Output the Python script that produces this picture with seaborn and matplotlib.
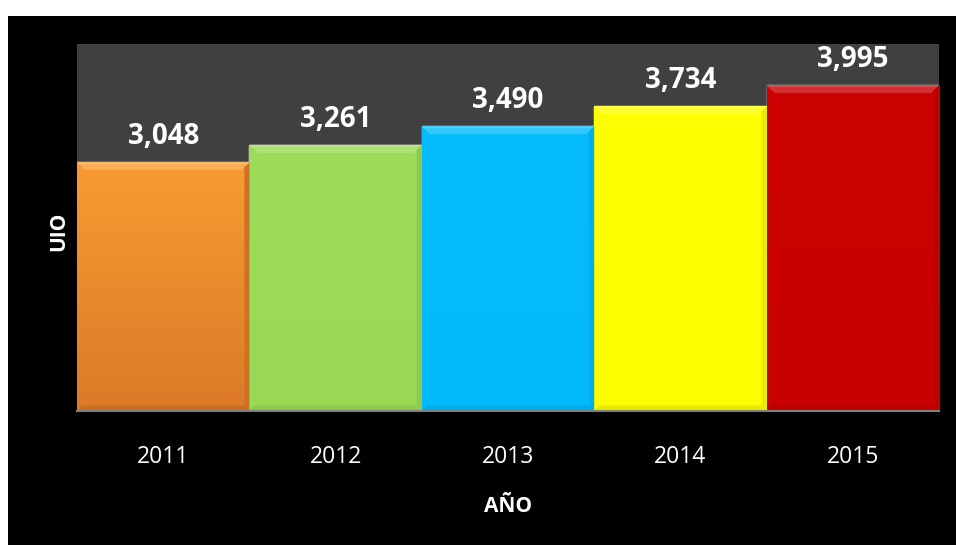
import numpy as np
import pandas as pd
import matplotlib
matplotlib.use("Agg")
import matplotlib.pyplot as plt
from matplotlib.patches import Polygon, Rectangle
from matplotlib.colors import to_rgb, LinearSegmentedColormap
import seaborn as sns

# Data
years = ["2011", "2012", "2013", "2014", "2015"]
values = [3048, 3261, 3490, 3734, 3995]
top_colors = ["#F99B31", "#9CDC58", "#05BCFC", "#FFFF00", "#CC0202"]
bottom_colors = ["#DC7A28", "#9AD955", "#02BAFA", "#FDFD00", "#C90000"]

sns.set_theme(style="white")
plt.rcParams["font.family"] = ["Open Sans", "DejaVu Sans"]

W, H = 956, 545
fig = plt.figure(figsize=(W / 100, H / 100), dpi=100, facecolor="white")

# black backdrop of the chart area
fig.patches.append(Rectangle((8 / W, 0), 1, (H - 16) / H, transform=fig.transFigure,
                             facecolor="black", edgecolor="none", zorder=-10))

ax = fig.add_axes([77 / W, 1 - 410.5 / H, 862 / W, 366.5 / H])
ax.set_facecolor("#404040")

df = pd.DataFrame({"year": years, "value": values})
sns.barplot(data=df, x="year", y="value", hue="year", palette=top_colors,
            width=1.0, saturation=1, legend=False, ax=ax, zorder=2)

ax.set_xlim(-0.5, len(years) - 0.5)
ax.set_ylim(0, 4500)

# pixel -> data conversions for the bevel
px_x = (len(years)) / 862.0
px_y = 4500 / 366.5


def mix(c, other, t):
    c = np.array(to_rgb(c))
    o = np.array(to_rgb(other))
    return tuple(c * (1 - t) + o * t)


bars = [p for p in ax.patches]
for i, p in enumerate(bars):
    x0 = p.get_x()
    w = p.get_width()
    h = p.get_height()
    x1 = x0 + w
    base = top_colors[i]
    # vertical gradient fill
    cmap = LinearSegmentedColormap.from_list("g", [bottom_colors[i], top_colors[i]])
    grad = np.linspace(0, 1, 256).reshape(-1, 1)
    im = ax.imshow(grad, extent=[x0, x1, 0, h], origin="lower", aspect="auto",
                   cmap=cmap, zorder=2.1)
    im.set_clip_path(p)

    bx, by = 8 * px_x, 8 * px_y
    sx, sy = 5 * px_x, 5 * px_y
    # top highlight
    ax.add_patch(Polygon([(x0, h), (x1, h), (x1 - bx, h - by), (x0 + bx, h - by)],
                         closed=True, facecolor=mix(base, "white", 0.18),
                         edgecolor="none", zorder=3))
    ax.add_patch(Polygon([(x0, h), (x1, h), (x1 - 2 * px_x, h - 2 * px_y), (x0 + 2 * px_x, h - 2 * px_y)],
                         closed=True, facecolor=mix(base, "white", 0.3),
                         edgecolor="none", zorder=3.1))
    # right side shade
    ax.add_patch(Polygon([(x1, h), (x1 - sx, h - sy), (x1 - sx, sy), (x1, 0)],
                         closed=True, facecolor=mix(bottom_colors[i], "black", 0.07),
                         edgecolor="none", zorder=3))
    # bottom shade
    ax.add_patch(Polygon([(x0, 0), (x1, 0), (x1 - sx, sy), (x0 + sx, sy)],
                         closed=True, facecolor=mix(bottom_colors[i], "black", 0.08),
                         edgecolor="none", zorder=3))

# value labels
for i, p in enumerate(bars):
    ax.annotate(f"{values[i]:,}", (p.get_x() + p.get_width() / 2, p.get_height()),
                xytext=(0, 8), textcoords="offset points", ha="center", va="bottom",
                fontsize=20, fontweight="bold", color="white", zorder=5)

for s in ["top", "right", "left"]:
    ax.spines[s].set_visible(False)
ax.spines["bottom"].set_color("#7F7F7F")
ax.spines["bottom"].set_linewidth(1.5)
ax.spines["bottom"].set_zorder(4)

ax.set_yticks([])
ax.tick_params(axis="x", length=0, pad=25, labelsize=16.5, labelcolor="white")

ax.set_xlabel("AÑO", fontsize=15, fontweight="bold", color="white", va="center")
ax.xaxis.set_label_coords(0.5, -0.2606)
ax.set_ylabel("UIO", fontsize=15, fontweight="bold", color="white", va="center", ha="center")
ax.yaxis.set_label_coords(-0.0215, 0.49)

fig.savefig("out.png", dpi=100, facecolor="white")
